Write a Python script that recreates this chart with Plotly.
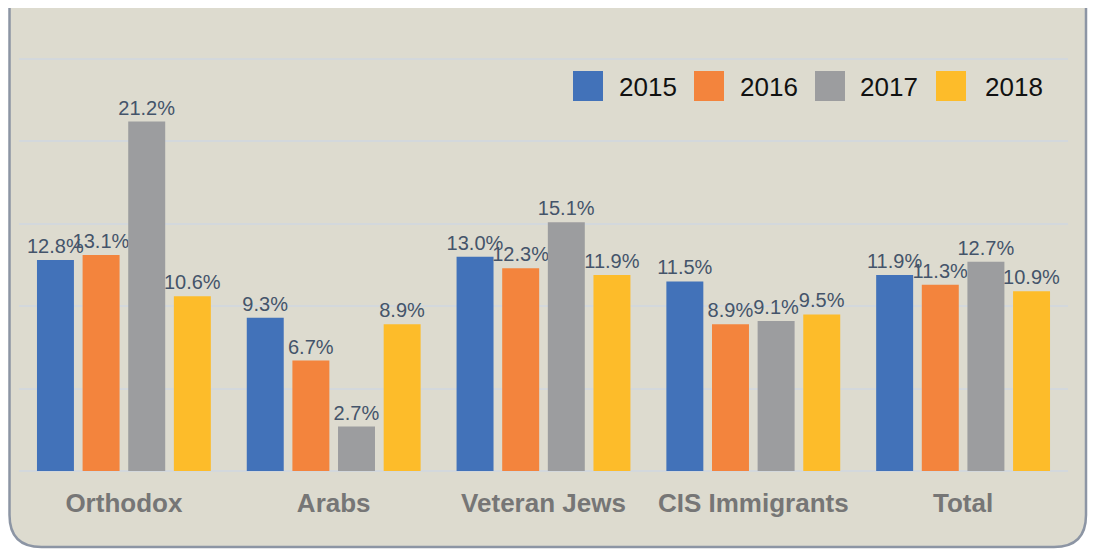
import plotly.graph_objects as go

# data
categories = ["Orthodox", "Arabs", "Veteran Jews", "CIS Immigrants", "Total"]
years = ["2015", "2016", "2017", "2018"]
values_2015 = [12.8, 9.3, 13.0, 11.5, 11.9]
values_2016 = [13.1, 6.7, 12.3, 8.9, 11.3]
values_2017 = [21.2, 2.7, 15.1, 9.1, 12.7]
values_2018 = [10.6, 8.9, 11.9, 9.5, 10.9]

colors = ["#4272b9", "#f3843d", "#9c9d9f", "#fdbc2a"]
OFF = 8  # page body margin the figure sits inside
W, H = 1096 - OFF, 550 - OFF
BG = "#dddbcf"


def px_x(x):
    # page pixel -> paper fraction
    return (x - OFF) / W


def px_y(y):
    return 1 - (y - OFF) / H


fig = go.Figure()
for year, vals, col in zip(years, [values_2015, values_2016, values_2017, values_2018], colors):
    fig.add_trace(go.Bar(
        x=categories, y=vals, name=year,
        marker=dict(color=col, line=dict(width=0)),
        texttemplate="%{y:.1f}%", textposition="outside",
        textfont=dict(family="Liberation Sans, Arial", size=20, color="#44546a"),
        constraintext="none", cliponaxis=False, showlegend=False,
    ))

# rounded background panel (top edge runs off the image)
l, r, b, t, rad = 9.5, 1086, 547, -40, 32
path = (f"M {px_x(l)},{px_y(t)} L {px_x(l)},{px_y(b - rad)} "
        f"Q {px_x(l)},{px_y(b)} {px_x(l + rad)},{px_y(b)} "
        f"L {px_x(r - rad)},{px_y(b)} "
        f"Q {px_x(r)},{px_y(b)} {px_x(r)},{px_y(b - rad)} "
        f"L {px_x(r)},{px_y(t)} Z")
shapes = [dict(type="path", path=path, xref="paper", yref="paper", layer="below",
               fillcolor=BG, line=dict(color="#8c95a4", width=2.5))]

# legend drawn by hand so the swatches can be large
annotations = []
sq_x = [588, 709, 830, 951]
txt_x = [617, 738, 858, 983]
for year, col, sx, tx in zip(years, colors, sq_x, txt_x):
    shapes.append(dict(type="rect", xref="paper", yref="paper",
                       x0=px_x(sx - 15), x1=px_x(sx + 15), y0=px_y(101), y1=px_y(71),
                       fillcolor=col, line=dict(width=0)))
    annotations.append(dict(text=year, xref="paper", yref="paper", x=px_x(tx), y=px_y(87),
                            xanchor="left", yanchor="middle", showarrow=False,
                            font=dict(family="Liberation Sans, Arial", size=26, color="#111111")))

fig.update_layout(
    width=W, height=H,
    margin=dict(l=0, r=0, t=0, b=0),
    paper_bgcolor="white", plot_bgcolor="rgba(0,0,0,0)",
    barmode="group", bargap=0.13, bargroupgap=0.19,
    shapes=shapes, annotations=annotations,
    showlegend=False,
)
fig.update_xaxes(
    domain=[px_x(19), px_x(1068)], automargin=False,
    tickfont=dict(family="Liberation Sans, Arial", size=26, color="#767676", weight="bold"),
    ticks="", ticklabelstandoff=14, showgrid=False, showline=False,
)
fig.update_yaxes(
    domain=[px_y(471), px_y(55.7)], range=[0, 25.2], dtick=5, automargin=False,
    showticklabels=False, showgrid=True, gridcolor="#d3d8dc", gridwidth=2,
    zeroline=True, zerolinecolor="#d3d8dc", zerolinewidth=2,
)

fig.write_html("out.html")
